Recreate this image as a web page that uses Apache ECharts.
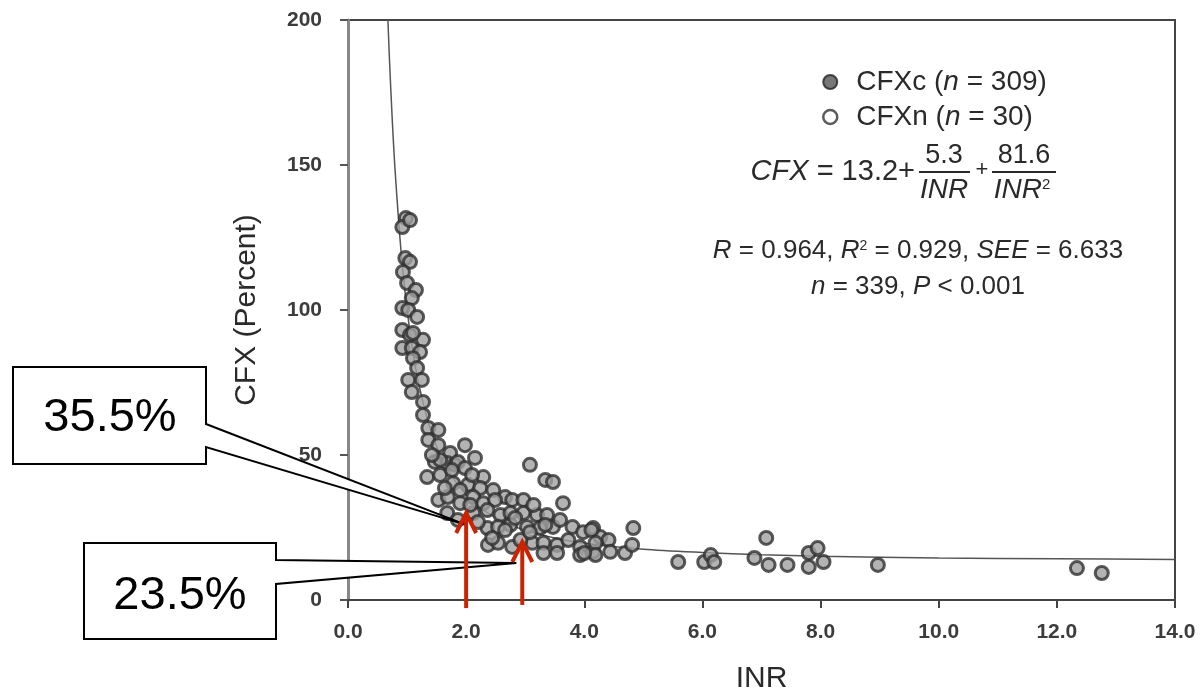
<!DOCTYPE html>
<html>
<head>
<meta charset="utf-8">
<script src="https://cdn.jsdelivr.net/npm/echarts@6/dist/echarts.min.js"></script>
<style>
html,body{margin:0;padding:0;background:#fff;}
#chart{width:1202px;height:697px;}
</style>
</head>
<body>
<div id="chart"></div>
<script>
// ---- data ----
const xTicks = [0, 2, 4, 6, 8, 10, 12, 14];
const yTicks = [0, 50, 100, 150, 200];

// CFXc points: INR and CFX (%)
const cfxcINR = [0.98,0.92,1.05,0.97,1.05,0.93,1.00,1.15,1.08,0.92,1.02,1.17,0.92,1.05,1.27,1.10,0.92,1.08,1.22,1.10,
  1.17,1.02,1.25,1.08,1.27,1.27,1.36,1.53,1.36,1.53,1.73,1.98,1.68,1.81,1.47,1.86,2.15,1.34,1.56,1.76,
  1.98,2.29,1.78,2.03,2.24,2.46,1.53,1.69,1.90,2.12,2.66,2.29,2.49,2.78,2.97,3.08,3.34,3.47,3.64,1.68,
  2.12,2.36,2.58,2.75,2.97,3.20,3.37,2.36,2.54,2.75,3.03,3.25,3.47,2.37,2.54,2.78,3.12,3.31,3.54,3.73,
  3.80,3.98,4.15,4.27,3.93,4.15,4.41,4.44,4.69,4.83,4.81,3.31,3.54,3.93,5.59,4.12,4.19,4.19,4.00];
const cfxcValue = [131.7,128.6,131.0,117.9,116.6,113.1,109.3,106.9,104.1,100.7,100.0,97.6,93.1,91.4,89.7,92.1,86.9,86.9,85.5,83.4,
  80.0,75.9,75.9,71.7,68.3,63.8,59.3,58.6,55.2,53.4,50.7,53.4,47.2,46.6,47.6,47.6,49.0,42.4,43.1,44.8,
  45.5,42.4,40.3,39.7,38.6,37.9,34.5,35.5,33.4,35.5,35.5,33.4,34.5,34.5,34.5,46.6,41.4,40.7,33.4,30.0,
  30.0,31.0,29.3,30.0,30.0,29.3,29.3,24.8,25.2,25.9,25.2,24.8,25.2,19.0,19.7,18.3,19.7,19.7,19.0,20.7,
  25.2,23.4,24.8,21.7,18.3,16.6,20.7,16.6,16.2,24.8,19.0,16.2,16.2,15.5,13.1,24.1,19.7,15.5,16.2];

// CFXn points: INR and CFX (%)
const cfxnINR = [1.64,1.90,2.07,1.86,2.20,2.44,2.92,2.66,3.08,2.83,3.14,3.34,3.59,2.10,1.56,1.42,
  6.03,6.14,6.20,6.88,7.08,7.12,7.44,7.80,7.95,7.80,8.05,8.97,12.34,12.76];
const cfxnValue = [38.6,37.9,32.8,27.6,26.9,21.4,20.7,24.1,23.4,28.3,32.8,25.9,27.6,43.1,48.3,50.0,
  13.1,15.5,13.1,14.5,21.4,12.1,12.1,16.2,17.9,11.4,13.1,12.1,11.0,9.3];

// fitted curve as traced on the picture
const fitINR = [0.66,0.70,0.75,0.80,0.90,1.00,1.10,1.20,1.35,1.50,1.70,2.00,2.30,2.70,3.00,3.50,4.00,5.00,6.00,7.00,8.00,10.00,12.00,14.00];
const fitCFX = [208.6,187.3,165.3,147.3,119.8,100.1,85.4,74.3,61.9,53.0,44.5,36.3,30.9,26.4,24.0,21.4,19.6,17.5,16.4,15.6,15.1,14.5,14.2,14.0];

// annotations (data coordinates)
const arrowINR = [2.0, 2.95];
const arrowFrom = [-2.8, -1.7];
const arrowTo = [30.0, 20.0];
const calloutTipINR = [2.0, 2.85];
const calloutTipCFX = [25.9, 12.8];
const calloutText = ['35.5%', '23.5%'];

const zip = (a, b) => a.map((v, i) => [v, b[i]]);

const FONT = 'Liberation Sans, Arial, sans-serif';
const chart = echarts.init(document.getElementById('chart'));

const markerStyle = { color: '#a0a0a0', borderColor: '#303030', borderWidth: 3 };

chart.setOption({
  animation: false,
  backgroundColor: '#fff',
  grid: { left: 348, right: 27, top: 20, bottom: 97, show: true, borderColor: '#444', borderWidth: 2,
    containLabel: false, outerBoundsMode: 'none' },
  xAxis: {
    type: 'value', min: 0, max: 14, interval: 2,
    name: 'INR', nameLocation: 'middle', nameGap: 64,
    nameTextStyle: { fontFamily: FONT, fontSize: 30, color: '#2a2a2a' },
    axisLine: { show: true, lineStyle: { color: '#444', width: 2 } },
    axisTick: { show: true, length: 8, lineStyle: { color: '#444', width: 2 } },
    axisLabel: { margin: 22, fontFamily: FONT, fontSize: 21, fontWeight: 'bold', color: '#3c3c3c', formatter: v => v.toFixed(1) },
    splitLine: { show: false }
  },
  yAxis: {
    type: 'value', min: 0, max: 200, interval: 50,
    name: 'CFX (Percent)', nameLocation: 'middle', nameGap: 86,
    nameTextStyle: { fontFamily: FONT, fontSize: 30, color: '#2a2a2a' },
    axisLine: { show: true, lineStyle: { color: '#888', width: 3 } },
    axisTick: { show: true, length: 8, lineStyle: { color: '#555', width: 2 } },
    axisLabel: { margin: 26, fontFamily: FONT, fontSize: 21, fontWeight: 'bold', color: '#3c3c3c' },
    splitLine: { show: false }
  },
  legend: {
    left: 817, top: 63, orient: 'vertical', itemGap: 7,
    itemWidth: 14, itemHeight: 14,
    data: [
      { name: 'CFXc', icon: 'circle', itemStyle: { color: '#555', borderColor: '#222', borderWidth: 2 } },
      { name: 'CFXn', icon: 'circle', itemStyle: { color: '#fff', borderColor: '#333', borderWidth: 2.5 } }
    ],
    formatter: name => name === 'CFXc' ? '{a|CFXc (}{i|n}{a| = 309)}' : '{a|CFXn (}{i|n}{a| = 30)}',
    textStyle: {
      padding: [0, 0, 0, 14],
      rich: {
        a: { fontFamily: FONT, fontSize: 28, color: '#2a2a2a' },
        i: { fontFamily: FONT, fontSize: 28, color: '#2a2a2a', fontStyle: 'italic' }
      }
    }
  },
  series: [
    {
      name: 'fit', type: 'line', data: zip(fitINR, fitCFX), smooth: 0.3, showSymbol: false,
      lineStyle: { color: '#555', width: 1.5 }, z: 1, clip: true, legendHoverLink: false
    },
    { name: 'CFXc', type: 'scatter', data: zip(cfxcINR, cfxcValue), symbolSize: 13, itemStyle: markerStyle, z: 3 },
    { name: 'CFXn', type: 'scatter', data: zip(cfxnINR, cfxnValue), symbolSize: 13, itemStyle: markerStyle, z: 3 }
  ]
});

// ---- text block (equation and statistics) ----
const txt = (x, y, text, size, align) => ({
  type: 'text', x: x, y: y, z: 50,
  style: { text: text, fontFamily: FONT, fontSize: size, fill: '#2a2a2a', align: align || 'center', verticalAlign: 'middle',
    rich: {
      i: { fontFamily: FONT, fontSize: size, fontStyle: 'italic', fill: '#2a2a2a' },
      s: { fontFamily: FONT, fontSize: Math.round(size * 0.55), fill: '#2a2a2a', padding: [0, 0, 10, 0] }
    } }
});
const bar = (x1, x2, y) => ({ type: 'line', z: 50, shape: { x1: x1, y1: y, x2: x2, y2: y }, style: { stroke: '#2a2a2a', lineWidth: 2 } });

const graphics = [
  txt(915, 172, '{i|CFX} = 13.2+', 29, 'right'),
  txt(944, 156, '5.3', 27),
  bar(919, 970, 172),
  txt(944, 190, '{i|INR}', 28),
  txt(982, 170, '+', 22),
  txt(1024, 156, '81.6', 27),
  bar(992, 1056, 172),
  txt(1022, 190, '{i|INR}{s|2}', 28),
  txt(918, 251, '{i|R} = 0.964, {i|R}{s|2} = 0.929, {i|SEE} = 6.633', 26),
  txt(918, 287, '{i|n} = 339, {i|P} < 0.001', 26)
];

// ---- callouts and arrows, anchored in data coordinates ----
const px = (x, y) => chart.convertToPixel({ gridIndex: 0 }, [x, y]);
const t1 = px(calloutTipINR[0], calloutTipCFX[0]);
const t2 = px(calloutTipINR[1], calloutTipCFX[1]);
graphics.push({
  type: 'polygon', z: 60,
  shape: { points: [[13, 367], [206, 367], [206, 424], t1, [206, 447], [206, 464], [13, 464]] },
  style: { fill: '#fff', stroke: '#000', lineWidth: 2 }
});
graphics.push({
  type: 'polygon', z: 60,
  shape: { points: [[84, 543], [276, 543], [276, 560], t2, [276, 584], [276, 639], [84, 639]] },
  style: { fill: '#fff', stroke: '#000', lineWidth: 2 }
});
graphics.push({ type: 'text', z: 61, x: 110, y: 418, style: { text: calloutText[0], fontFamily: FONT, fontSize: 47, fill: '#000', align: 'center', verticalAlign: 'middle' } });
graphics.push({ type: 'text', z: 61, x: 180, y: 596, style: { text: calloutText[1], fontFamily: FONT, fontSize: 47, fill: '#000', align: 'center', verticalAlign: 'middle' } });

arrowINR.forEach((xv, i) => {
  const a = px(xv, arrowFrom[i]);
  const b = px(xv, arrowTo[i]);
  graphics.push({ type: 'line', z: 70, shape: { x1: a[0], y1: a[1], x2: b[0], y2: b[1] + 2 }, style: { stroke: '#cc2200', lineWidth: 4 } });
  graphics.push({ type: 'polyline', z: 70, shape: { points: [[b[0] - 10, b[1] + 20], [b[0], b[1]], [b[0] + 10, b[1] + 20]] },
    style: { stroke: '#cc2200', lineWidth: 4, fill: null, lineJoin: 'miter' } });
});

chart.setOption({ graphic: graphics });
</script>
</body>
</html>
